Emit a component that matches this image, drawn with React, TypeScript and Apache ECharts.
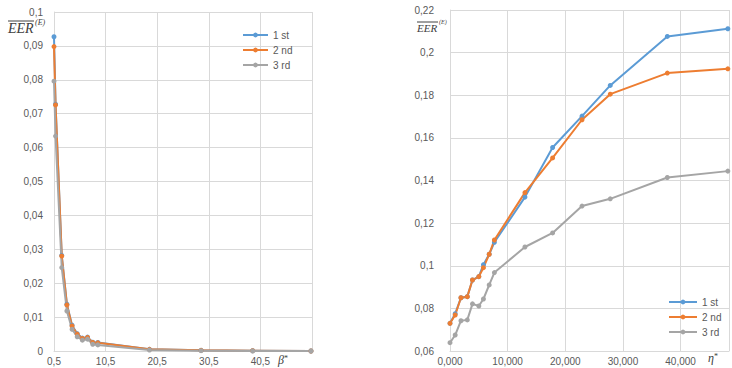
import React, { useEffect, useRef } from "react";
import * as echarts from "echarts";

// Left chart (β*)
const betaX = [0.5, 0.8, 2, 3, 4, 5, 6, 7, 8, 9, 19, 29, 39, 50.3];
const leftFirst = [0.0927, 0.0728, 0.0282, 0.0138, 0.0076, 0.0051, 0.0038, 0.0041, 0.0026, 0.0025, 0.0005, 0.0002, 0.0001, 0.0];
const leftSecond = [0.0898, 0.0726, 0.028, 0.0136, 0.0074, 0.005, 0.0037, 0.004, 0.0025, 0.0024, 0.0005, 0.0002, 0.0001, 0.0];
const leftThird = [0.0796, 0.0634, 0.0246, 0.0118, 0.0064, 0.0042, 0.0032, 0.0035, 0.002, 0.0018, 0.0003, 0.0001, 0.0, 0.0];

// Right chart (η*)
const etaX = [0, 900, 1900, 3000, 3900, 5000, 5800, 6800, 7700, 13000, 17800, 22900, 27800, 37700, 48200];
const rightFirst = [0.073, 0.0775, 0.085, 0.0855, 0.0933, 0.0949, 0.1005, 0.1054, 0.111, 0.1322, 0.1555, 0.1702, 0.1846, 0.2076, 0.2112];
const rightSecond = [0.073, 0.0769, 0.085, 0.0855, 0.0933, 0.0949, 0.0991, 0.1054, 0.1121, 0.1343, 0.1506, 0.1685, 0.1805, 0.1904, 0.1924];
const rightThird = [0.0639, 0.0675, 0.0742, 0.0746, 0.0821, 0.0811, 0.0844, 0.091, 0.0968, 0.1088, 0.1154, 0.128, 0.1314, 0.1414, 0.1444];

const seriesNames = ["1 st", "2 nd", "3 rd"];
const colors = ["#5B9BD5", "#ED7D31", "#A5A5A5"];

const pairs = (xs: number[], ys: number[]) => xs.map((x, i) => [x, ys[i]]);

const decComma = (v: number) => {
  const r = Math.round(v * 1000) / 1000;
  return String(r).replace(".", ",");
};

const labelStyle = { color: "#595959", fontFamily: "Liberation Sans", fontSize: 10 };
const gridLine = { lineStyle: { color: "#D9D9D9", width: 1 } };
const axisLine = { lineStyle: { color: "#D9D9D9", width: 1 } };

export default function App() {
  const ref = useRef<HTMLDivElement>(null);
  useEffect(() => {
    if (!ref.current) return;
    const chart = echarts.init(ref.current, null, { renderer: "svg" });
    const mkSeries = (name: string, color: string, data: number[][], idx: number) => ({
      name,
      type: "line",
      xAxisIndex: idx,
      yAxisIndex: idx,
      data,
      symbol: "circle",
      symbolSize: 5,
      color,
      lineStyle: { color, width: 2 },
      itemStyle: { color },
    });
    const leftData = [leftFirst, leftSecond, leftThird];
    const rightData = [rightFirst, rightSecond, rightThird];
    const series: any[] = [];
    seriesNames.forEach((n, i) => series.push(mkSeries(n, colors[i], pairs(betaX, leftData[i]), 0)));
    seriesNames.forEach((n, i) => series.push(mkSeries(n, colors[i], pairs(etaX, rightData[i]), 1)));

    const titleGroup = (x: number, y: number, fs: number, w: number) => ({
      type: "group",
      x,
      y,
      children: [
        {
          type: "text",
          x: 0,
          y: 0,
          style: { text: "EER", font: `italic ${fs}px "Liberation Serif"`, fill: "#404040" },
        },
        {
          type: "text",
          x: w + 1,
          y: -3,
          style: { text: "(E)", font: `italic ${Math.round(fs * 0.55)}px "Liberation Serif"`, fill: "#404040" },
        },
        {
          type: "line",
          shape: { x1: 0, y1: 0, x2: w, y2: 0 },
          style: { stroke: "#404040", lineWidth: 1 },
        },
      ],
    });

    const option: any = {
      animation: false,
      backgroundColor: "#ffffff",
      grid: [
        { left: 54, top: 12, width: 258, height: 339 },
        { left: 450, top: 10, right: 0, height: 341 },
      ],
      xAxis: [
        {
          type: "value",
          gridIndex: 0,
          min: 0.5,
          max: 50.5,
          interval: 10,
          axisLine: { show: true, ...axisLine },
          axisTick: { show: false },
          splitLine: { show: true, ...gridLine },
          axisLabel: {
            ...labelStyle,
            margin: 5,
            showMaxLabel: false,
            formatter: (v: number) => (Math.abs(v - 50.5) < 1e-6 ? "" : decComma(v)),
          },
        },
        {
          type: "value",
          gridIndex: 1,
          min: 0,
          max: 48400,
          interval: 10000,
          axisLine: { show: true, ...axisLine },
          axisTick: { show: false },
          splitLine: { show: true, ...gridLine },
          axisLabel: {
            ...labelStyle,
            margin: 5,
            formatter: (v: number) => (v % 10000 !== 0 ? "" : `${v / 1000},000`),
          },
        },
      ],
      yAxis: [
        {
          type: "value",
          gridIndex: 0,
          min: 0,
          max: 0.1,
          interval: 0.01,
          axisLine: { show: true, ...axisLine },
          axisTick: { show: false },
          splitLine: { show: true, ...gridLine },
          axisLabel: { ...labelStyle, margin: 11, formatter: (v: number) => decComma(v) },
        },
        {
          type: "value",
          gridIndex: 1,
          min: 0.06,
          max: 0.22,
          interval: 0.02,
          axisLine: { show: true, ...axisLine },
          axisTick: { show: false },
          splitLine: { show: true, ...gridLine },
          axisLabel: { ...labelStyle, margin: 16, formatter: (v: number) => decComma(v) },
        },
      ],
      legend: [
        {
          orient: "vertical",
          left: 237,
          top: 25,
          itemWidth: 25,
          itemHeight: 6,
          itemGap: 5,
          data: seriesNames,
          selectedMode: false,
          textStyle: { ...labelStyle, lineHeight: 10 },
        },
        {
          orient: "vertical",
          left: 663,
          top: 292,
          itemWidth: 28,
          itemHeight: 6,
          itemGap: 5,
          data: seriesNames,
          selectedMode: false,
          textStyle: { ...labelStyle, lineHeight: 10 },
        },
      ],
      graphic: [
        titleGroup(8, 21, 14, 26),
        titleGroup(417, 22, 11, 21),
        {
          type: "text",
          x: 278,
          y: 354,
          style: {
            text: "{a|β}{b|*}",
            rich: {
              a: { font: 'italic 12px "Liberation Serif"', fill: "#404040" },
              b: { font: '8px "Liberation Serif"', fill: "#404040", verticalAlign: "top" },
            },
          },
        },
        {
          type: "text",
          x: 708,
          y: 352,
          style: {
            text: "{a|η}{b|*}",
            rich: {
              a: { font: 'italic 12px "Liberation Serif"', fill: "#404040" },
              b: { font: '8px "Liberation Serif"', fill: "#404040", verticalAlign: "top" },
            },
          },
        },
      ],
      series,
    };
    chart.setOption(option);
    return () => chart.dispose();
  }, []);
  return (
    <div
      ref={ref}
      style={{ position: "fixed", left: 0, top: 0, width: 732, height: 368, background: "#fff" }}
    />
  );
}
